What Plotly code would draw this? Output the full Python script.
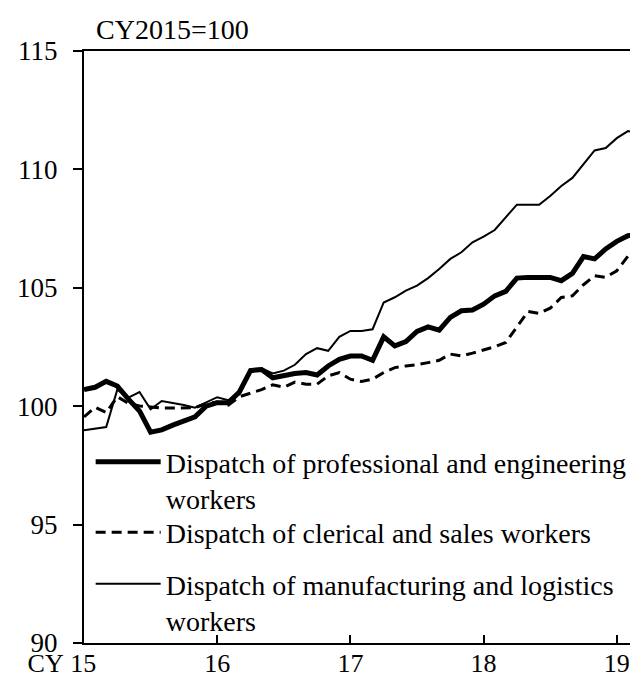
import plotly.graph_objects as go

months = list(range(51))  # Jan 2015 .. Mar 2019 (month index)
tick_vals = [0, 12, 24, 36, 48]
# first label carries the "CY" prefix; trailing blank space keeps "15" centred on its tick
tick_text = ["CY\u00a015\u2003\u2002\u2009", "16", "17", "18", "19"]
y_ticks = [90, 95, 100, 105, 110, 115]

professional = [100.7, 100.8, 101.05, 100.85, 100.3, 99.8, 98.9, 99.0, 99.2, 99.4,
                99.55, 100.0, 100.15, 100.15, 100.6, 101.5, 101.55, 101.2, 101.3, 101.38,
                101.42, 101.32, 101.7, 101.98, 102.12, 102.12, 101.94, 102.93, 102.55, 102.73,
                103.16, 103.35, 103.21, 103.75, 104.03, 104.06, 104.31, 104.66, 104.85, 105.41,
                105.44, 105.44, 105.44, 105.3, 105.61, 106.32, 106.22, 106.64, 106.96, 107.2,
                107.25]
clerical = [99.55, 99.95, 99.73, 100.4, 100.12, 100.01, 99.97, 99.92, 99.92, 99.94,
            99.94, 100.1, 100.18, 100.05, 100.4, 100.55, 100.7, 100.9, 100.8, 101.02,
            100.93, 100.93, 101.28, 101.42, 101.14, 101.04, 101.14, 101.42, 101.63, 101.7,
            101.75, 101.84, 101.94, 102.2, 102.12, 102.24, 102.37, 102.51, 102.69, 103.33,
            104.0, 103.92, 104.14, 104.59, 104.66, 105.13, 105.51, 105.44, 105.72, 106.33,
            106.33]
manufacturing = [98.98, 99.05, 99.12, 100.7, 100.36, 100.6, 99.87, 100.22, 100.15, 100.05,
                 99.94, 100.15, 100.38, 100.25, 100.5, 101.56, 101.6, 101.38, 101.5, 101.75,
                 102.2, 102.45, 102.34, 102.93, 103.18, 103.18, 103.25, 104.38, 104.6, 104.88,
                 105.09, 105.41, 105.79, 106.22, 106.5, 106.92, 107.16, 107.44, 107.98, 108.51,
                 108.51, 108.51, 108.88, 109.3, 109.64, 110.23, 110.8, 110.9, 111.32, 111.62,
                 111.5]

names = ["Dispatch of professional and engineering<br>workers",
         "Dispatch of clerical and sales workers",
         "Dispatch of manufacturing and logistics<br>workers"]

FONT = "Liberation Serif, Times New Roman, serif"
FS = 28

fig = go.Figure()
fig.add_trace(go.Scatter(x=months, y=professional, mode="lines", name=names[0],
                         legend="legend",
                         line=dict(color="black", width=5)))
fig.add_trace(go.Scatter(x=months, y=clerical, mode="lines", name=names[1],
                         legend="legend2",
                         line=dict(color="black", width=3, dash="10px,6px")))
fig.add_trace(go.Scatter(x=months, y=manufacturing, mode="lines", name=names[2],
                         legend="legend3",
                         line=dict(color="black", width=2)))

leg_common = dict(x=0.012, xanchor="left", yanchor="top",
                  bgcolor="rgba(255,255,255,0)", itemwidth=65, valign="top",
                  font=dict(family=FONT, size=FS, color="black"))

fig.update_layout(
    width=638, height=683,
    margin=dict(l=76, r=5, t=43, b=48),
    paper_bgcolor="white", plot_bgcolor="white",
    font=dict(family=FONT, size=FS, color="black"),
    showlegend=True,
    legend=dict(y=0.348, **leg_common),
    legend2=dict(y=0.229, **leg_common),
    legend3=dict(y=0.142, **leg_common),
    xaxis=dict(range=[0, 50], tickvals=tick_vals, ticktext=tick_text,
               showgrid=False, zeroline=False, showline=True, linecolor="black",
               linewidth=2, mirror=True, ticks="inside", ticklen=8, tickwidth=2,
               tickcolor="black", ticklabelstandoff=-4,
               tickfont=dict(family=FONT, size=26)),
    yaxis=dict(range=[90, 115], tickvals=y_ticks,
               showgrid=False, zeroline=False, showline=True, linecolor="black",
               linewidth=2, mirror=True, ticks="outside", ticklen=9, tickwidth=2,
               tickcolor="black", ticklabelstandoff=10,
               tickfont=dict(family=FONT, size=27)),
    annotations=[
        dict(text="CY2015=100", xref="paper", yref="paper", x=0.018, y=1.037,
             xanchor="left", yanchor="middle", showarrow=False,
             font=dict(family=FONT, size=FS)),
    ],
)

fig.write_html("out.html")
